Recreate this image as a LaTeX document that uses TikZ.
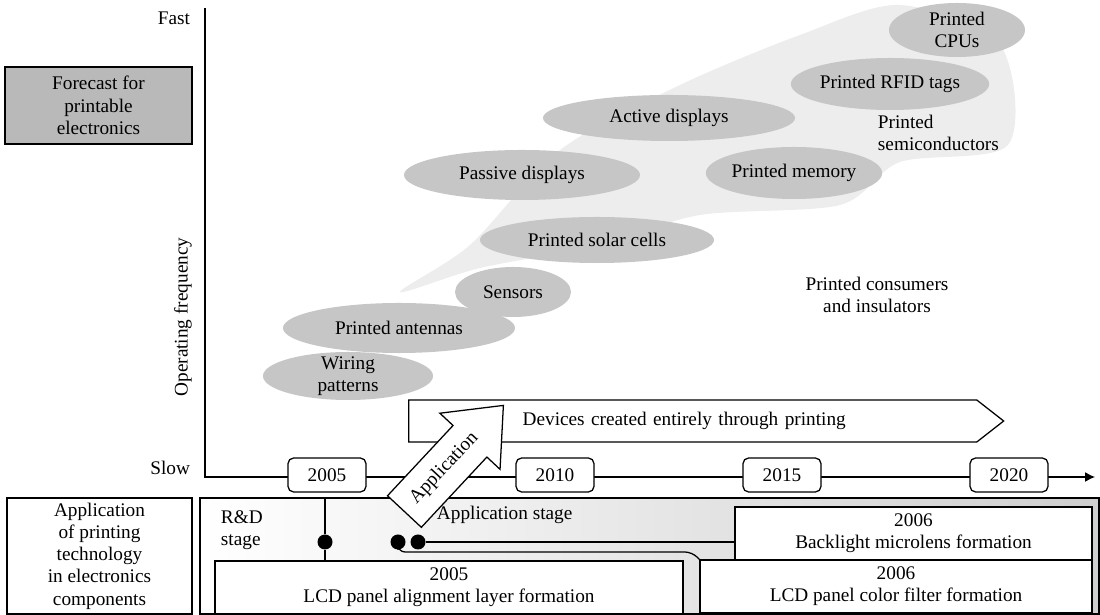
\documentclass[tikz,border=0pt]{standalone}
\usepackage{fontspec}
\setmainfont{Liberation Serif}
\usetikzlibrary{shapes.geometric,shapes.arrows,shapes.symbols,arrows.meta}

\begin{document}
\begin{tikzpicture}[x=0.025cm, y=-0.025cm, >={Latex[length=7pt,width=7pt]},
  every node/.style={font=\fontsize{13.7}{15.8}\selectfont},
  blob/.style={ellipse, fill=gray!45, inner sep=0pt, align=center},
  yearbox/.style={draw, fill=white, rounded corners=4pt, line width=0.9pt, minimum width=1.95cm, minimum height=0.85cm},
  stagebox/.style={draw, fill=white, line width=0.9pt, align=center, minimum height=1.325cm},
  dot/.style={circle, fill=black, inner sep=0pt, minimum size=0.375cm}]
\useasboundingbox (0,0) rectangle (1100,615);

\fill[gray!14] plot[smooth cycle] coordinates {(400,292) (470,245) (560,150) (680,85) (800,35) (900,5) (1000,45) (1008,145) (900,162) (840,205) (700,215) (600,245) (480,268)};

\node[blob, minimum width=4.25cm, minimum height=1.2cm, inner ysep=-3pt] (wiring) at (348,376) {Wiring\\patterns};
\node[blob, minimum width=5.8cm, minimum height=1.25cm] (antennas) at (399,328) {Printed antennas};
\node[blob, minimum width=2.9cm, minimum height=1.25cm] (sensors) at (513,292) {Sensors};
\node[blob, minimum width=5.85cm, minimum height=1.15cm] (solar) at (597,240) {Printed solar cells};
\node[blob, minimum width=5.9cm, minimum height=1.25cm] (passive) at (522,175) {Passive displays};
\node[blob, minimum width=6.3cm, minimum height=1.15cm] (active) at (669,118) {Active displays};
\node[blob, minimum width=4.3cm, minimum height=1.3cm] (memory) at (794,173) {Printed memory};
\node[blob, minimum width=4.3cm, minimum height=1.3cm] (rfid) at (890,84) {Printed RFID tags};
\node[blob, minimum width=3.4cm, minimum height=1.35cm, inner ysep=-3pt] (cpus) at (957,30) {Printed\\CPUs};
\node[align=left, anchor=west] (semi) at (873,133) {Printed\\semiconductors};
\node[align=center] (consumers) at (877,295) {Printed consumers\\and insulators};

\node[draw, fill=gray!55, line width=0.9pt, minimum width=4.675cm, minimum height=1.925cm, align=center] (forecast) at (98.5,105.5) {Forecast for\\printable\\electronics};
\node[anchor=east] (fast) at (195,18) {Fast};
\node[anchor=east] (slow) at (195,468) {Slow};
\node[rotate=90] (freq) at (183,317) {Operating frequency};

\coordinate (ytop) at (205,8);
\coordinate (orig) at (205,477);
\coordinate (xend) at (1095,477);
\draw[line width=0.9pt, ->] (ytop) -- (orig) -- (xend);
\foreach \yr/\xx in {2005/327, 2010/555, 2015/782, 2020/1009}
  \node[yearbox] (y\yr) at (\xx,475) {\yr};

\node[signal, signal to=east, signal pointer angle=76, draw, fill=white, line width=0.9pt, minimum height=1.05cm, inner xsep=2.85cm, text width=8.5cm, align=left, anchor=west] (devices) at (408,421) {Devices created entirely through printing};

\shade[left color=white, middle color=gray!16, right color=gray!38] (200,498) rectangle (1099,614);
\draw[line width=0.9pt] (200,498) rectangle (1099,614);
\coordinate (boxtop) at (200,498);
\node[draw, line width=0.9pt, minimum width=4.625cm, minimum height=2.9cm, align=center] (apptech) at (99.5,556) {Application\\of printing\\technology\\in electronics\\components};

\node[anchor=west, align=left] (rd) at (216,530) {R\&D\\stage};
\node[anchor=west] (appstage) at (432,515) {Application stage};
\node[stagebox, minimum width=11.7cm] (lcdalign) at (449,587.5) {2005\\LCD panel alignment layer formation};
\node[stagebox, minimum width=8.925cm] (backlight) at (913.5,533.5) {2006\\Backlight microlens formation};
\node[stagebox, minimum width=9.8cm] (filter) at (896,586.5) {2006\\LCD panel color filter formation};

\node[dot] (d1) at (325,542) {};
\node[dot] (d2) at (398,542) {};
\node[dot] (d3) at (418,542) {};
\draw[line width=0.9pt] (d1 |- boxtop) -- (d1) -- (d1 |- lcdalign.north);
\draw[line width=0.9pt] (d3) -- (d3 -| backlight.west);
\draw[line width=0.9pt] (d2) [rounded corners=5pt] |- (692,552) [sharp corners] -- (filter.north west);

\node[single arrow, draw, fill=white, line width=0.9pt, rotate=47, anchor=tail, inner xsep=9pt, inner ysep=10pt, single arrow head extend=0.45cm, single arrow tip angle=80, text height=9pt, text depth=3pt] (apparrow) at (404,512) {Application};
\end{tikzpicture}
\end{document}
